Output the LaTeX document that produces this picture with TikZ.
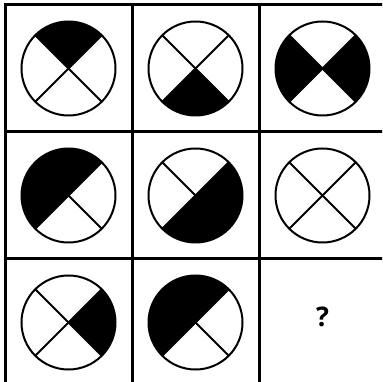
\documentclass[tikz,border=0pt]{standalone}
\usepackage{fontspec}
\setsansfont{Open Sans}
\usetikzlibrary{positioning}

\begin{document}
\begin{tikzpicture}[x=1pt,y=1pt,
  grid/.style={line width=3pt},
  disc/.style={circle,draw,line width=2pt,minimum size=94pt,inner sep=0pt,outer sep=0pt},
  cross/.style={line width=2pt},
  qmark/.style={font=\sffamily\bfseries\fontsize{27}{30}\selectfont}]
  \useasboundingbox (0,0) rectangle (382,382);
  \begin{scope}
    \clip (0,0) rectangle (382,382);
    \foreach \i in {0,1,2,3} {
      \draw[grid] (5+127*\i,377) -- (5+127*\i,-10);
      \draw[grid] (3.5,377-127*\i) -- (392,377-127*\i);
    }
  \end{scope}
  % black quadrants: column/row/angle
  \foreach \c/\r/\a in {0/0/90, 1/0/270, 2/0/0, 2/0/180, 0/1/90, 0/1/180,
                        1/1/270, 1/1/0, 0/2/0, 1/2/90, 1/2/180}
    \fill (68.5+127*\c,313.5-127*\r) -- ++(\a-45:47)
      arc[start angle=\a-45, end angle=\a+45, radius=47] -- cycle;
  % circles with their crosses
  \foreach \c/\r in {0/0, 1/0, 2/0, 0/1, 1/1, 2/1, 0/2, 1/2} {
    \node[disc] (p\c\r) at (68.5+127*\c,313.5-127*\r) {};
    \draw[cross] (p\c\r.45) -- (p\c\r.225);
    \draw[cross] (p\c\r.135) -- (p\c\r.315);
  }
  \node[qmark] (q) at (322.5,65) {?};
\end{tikzpicture}
\end{document}
